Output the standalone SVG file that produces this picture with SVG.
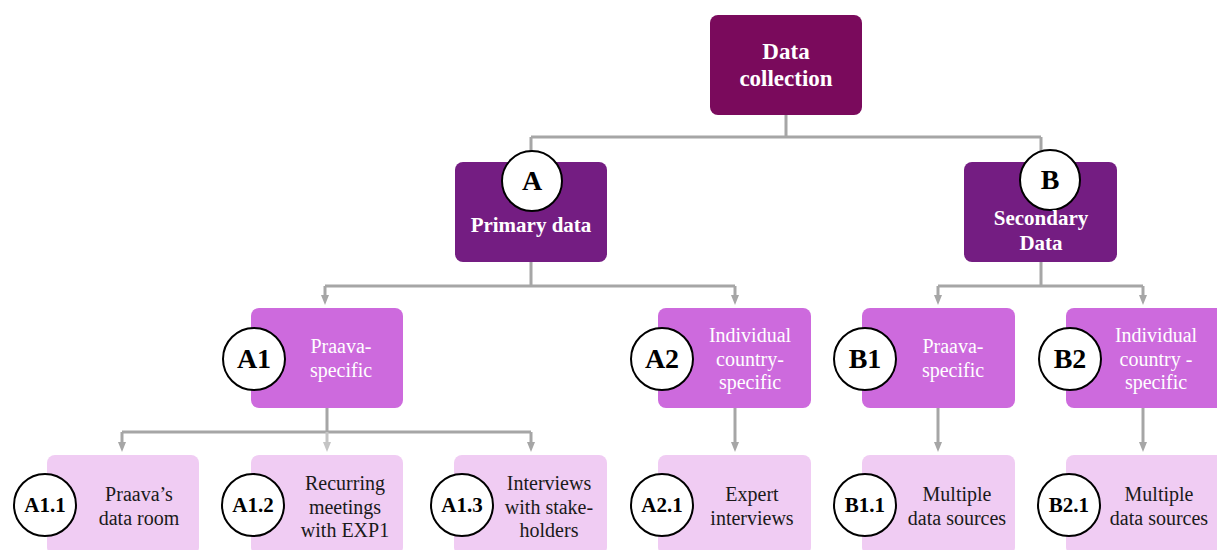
<svg xmlns="http://www.w3.org/2000/svg" width="1217" height="550" viewBox="0 0 1217 550">
<defs>
<style>
.root{fill:#7A0A5C}
.l1{fill:#741D82}
.l2{fill:#CD6ADD}
.l3{fill:#F0CCF3}
.badge{fill:#FFFFFF;stroke:#000000;stroke-width:2}
.conn{fill:none;stroke:#A6A6A6;stroke-width:3}
.connL{fill:none;stroke:#C4C4C4;stroke-width:3}
text{font-family:"Liberation Serif","Times New Roman",serif;text-anchor:middle}
.tRoot{font-size:23px;font-weight:bold;fill:#FFFFFF}
.tL1{font-size:21px;font-weight:bold;fill:#FFFFFF}
.tL2{font-size:20px;fill:#FFFFFF}
.tL3{font-size:20px;fill:#1A1A1A}
.bBig{font-size:28px;font-weight:bold;fill:#000000}
.bSmall{font-size:21px;font-weight:bold;fill:#000000}
</style>
<marker id="arr" viewBox="0 0 10 8" refX="0" refY="4" markerWidth="10" markerHeight="8" markerUnits="userSpaceOnUse" orient="auto">
<path d="M0,0 L10,4 L0,8 z" fill="#A6A6A6"/>
</marker>
<marker id="arrL" viewBox="0 0 10 8" refX="0" refY="4" markerWidth="10" markerHeight="8" markerUnits="userSpaceOnUse" orient="auto">
<path d="M0,0 L10,4 L0,8 z" fill="#C4C4C4"/>
</marker>
</defs>
<rect width="1217" height="550" fill="#FFFFFF"/>

<g id="connectors">
<path class="conn" d="M786 115 V137 M531 137 H1041 M531 137 V162 M1041 137 V162"/>
<path class="conn" d="M531 262 V286 M325 286 H735 M938 286 H1143 M1041 262 V286"/>
<path class="conn" marker-end="url(#arr)" d="M325 286 V295"/>
<path class="conn" marker-end="url(#arr)" d="M735 286 V295"/>
<path class="conn" marker-end="url(#arr)" d="M938 286 V295"/>
<path class="conn" marker-end="url(#arr)" d="M1143 286 V295"/>
<path class="conn" d="M327 408 V432 M122 432 H531"/>
<path class="conn" marker-end="url(#arr)" d="M122 432 V442"/>
<path class="connL" marker-end="url(#arrL)" d="M327 432 V442"/>
<path class="conn" marker-end="url(#arr)" d="M531 432 V442"/>
<path class="conn" marker-end="url(#arr)" d="M735 408 V442"/>
<path class="conn" marker-end="url(#arr)" d="M938 408 V442"/>
<path class="conn" marker-end="url(#arr)" d="M1143 408 V442"/>
</g>

<g id="node-root">
<rect class="root" x="710" y="15" width="152" height="100" rx="8"/>
<text class="tRoot" x="786" y="59">Data<tspan x="786" dy="27">collection</tspan></text>
</g>

<g id="node-A">
<rect class="l1" x="455" y="162" width="152" height="100" rx="8"/>
<ellipse class="badge" cx="532" cy="181" rx="30" ry="30"/>
<text class="bBig" x="532" y="190">A</text>
<text class="tL1" x="531" y="232">Primary data</text>
</g>

<g id="node-B">
<rect class="l1" x="964" y="162" width="153" height="100" rx="8"/>
<ellipse class="badge" cx="1050" cy="180" rx="30" ry="30"/>
<text class="bBig" x="1050" y="189">B</text>
<text class="tL1" x="1041" y="225">Secondary<tspan x="1041" dy="24.5">Data</tspan></text>
</g>

<g id="node-A1">
<rect class="l2" x="251" y="308" width="152" height="100" rx="8"/>
<circle class="badge" cx="254" cy="359" r="31"/>
<text class="bBig" x="254" y="368">A1</text>
<text class="tL2" x="341" y="353">Praava-<tspan x="341" dy="23.5">specific</tspan></text>
</g>

<g id="node-A2">
<rect class="l2" x="658" y="308" width="153" height="100" rx="8"/>
<circle class="badge" cx="662" cy="359" r="31"/>
<text class="bBig" x="662" y="368">A2</text>
<text class="tL2" x="750" y="342">Individual<tspan x="750" dy="23.5">country-</tspan><tspan x="750" dy="23.5">specific</tspan></text>
</g>

<g id="node-B1">
<rect class="l2" x="862" y="308" width="153" height="100" rx="8"/>
<circle class="badge" cx="865" cy="359" r="31"/>
<text class="bBig" x="865" y="368">B1</text>
<text class="tL2" x="953" y="353">Praava-<tspan x="953" dy="23.5">specific</tspan></text>
</g>

<g id="node-B2">
<rect class="l2" x="1066" y="308" width="160" height="100" rx="8"/>
<circle class="badge" cx="1070" cy="359" r="31"/>
<text class="bBig" x="1070" y="368">B2</text>
<text class="tL2" x="1156" y="342">Individual<tspan x="1156" dy="23.5">country -</tspan><tspan x="1156" dy="23.5">specific</tspan></text>
</g>

<g id="node-A1-1">
<rect class="l3" x="47" y="455" width="152" height="100" rx="8"/>
<circle class="badge" cx="45" cy="505" r="31"/>
<text class="bSmall" x="45" y="512">A1.1</text>
<text class="tL3" x="139" y="501">Praava’s<tspan x="139" dy="23.5">data room</tspan></text>
</g>

<g id="node-A1-2">
<rect class="l3" x="251" y="455" width="152" height="100" rx="8"/>
<circle class="badge" cx="253" cy="505" r="31"/>
<text class="bSmall" x="253" y="512">A1.2</text>
<text class="tL3" x="345" y="490">Recurring<tspan x="345" dy="23.5">meetings</tspan><tspan x="345" dy="23.5">with EXP1</tspan></text>
</g>

<g id="node-A1-3">
<rect class="l3" x="454" y="455" width="153" height="100" rx="8"/>
<circle class="badge" cx="462" cy="505" r="31"/>
<text class="bSmall" x="462" y="512">A1.3</text>
<text class="tL3" x="549" y="490">Interviews<tspan x="549" dy="23.5">with stake-</tspan><tspan x="549" dy="23.5">holders</tspan></text>
</g>

<g id="node-A2-1">
<rect class="l3" x="658" y="455" width="153" height="100" rx="8"/>
<circle class="badge" cx="662" cy="505" r="31"/>
<text class="bSmall" x="662" y="512">A2.1</text>
<text class="tL3" x="752" y="501">Expert<tspan x="752" dy="23.5">interviews</tspan></text>
</g>

<g id="node-B1-1">
<rect class="l3" x="862" y="455" width="153" height="100" rx="8"/>
<circle class="badge" cx="865" cy="505" r="31"/>
<text class="bSmall" x="865" y="512">B1.1</text>
<text class="tL3" x="957" y="501">Multiple<tspan x="957" dy="23.5">data sources</tspan></text>
</g>

<g id="node-B2-1">
<rect class="l3" x="1066" y="455" width="160" height="100" rx="8"/>
<circle class="badge" cx="1069" cy="505" r="31"/>
<text class="bSmall" x="1069" y="512">B2.1</text>
<text class="tL3" x="1159" y="501">Multiple<tspan x="1159" dy="23.5">data sources</tspan></text>
</g>
</svg>
